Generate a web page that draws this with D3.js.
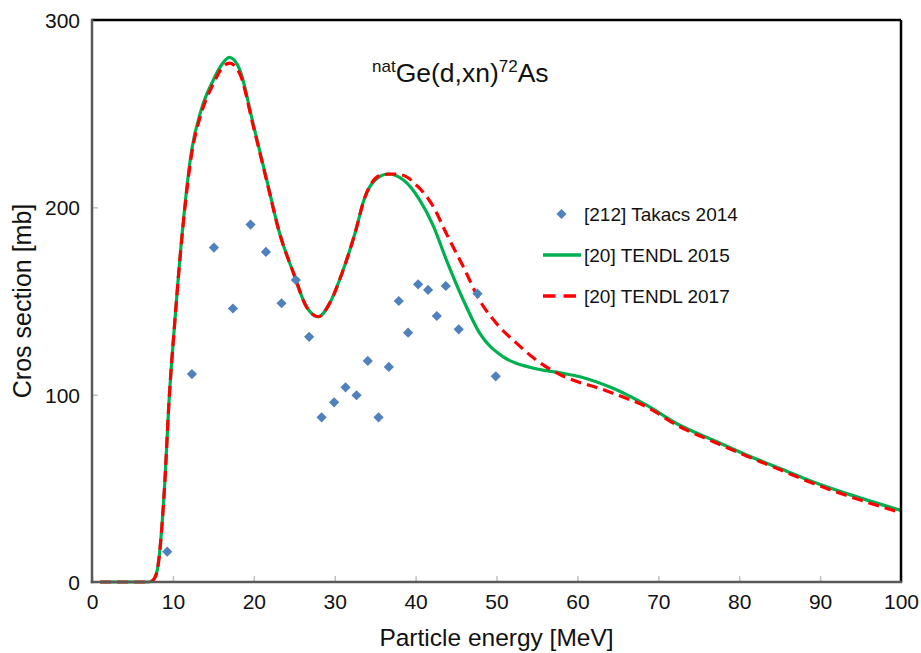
<!DOCTYPE html>
<html>
<head>
<meta charset="utf-8">
<script src="https://cdn.jsdelivr.net/npm/d3@7"></script>
<style>
  html, body { margin: 0; padding: 0; background: #fff; }
  svg { display: block; font-family: "Liberation Sans", Arial, sans-serif; }
</style>
</head>
<body>
<svg id="chart" width="921" height="653"></svg>
<script>
// ---- Data ----
const xTicks = [0, 10, 20, 30, 40, 50, 60, 70, 80, 90, 100];
const yTicks = [0, 100, 200, 300];

const takacsEnergy = [9.3, 12.35, 15.07, 17.42, 19.6, 21.5, 23.43, 25.2, 26.84, 28.38, 29.93, 31.34, 32.7, 34.09, 35.42, 36.69, 37.92, 39.07, 40.31, 41.54, 42.62, 43.73, 45.33, 47.65, 49.91];
const takacsValue  = [16.2, 111, 178.5, 146, 190.8, 176.2, 148.8, 161.2, 130.9, 87.9, 95.9, 103.9, 99.7, 118.0, 87.9, 114.8, 150.0, 133.1, 158.9, 155.9, 142.0, 158.0, 134.9, 153.9, 109.8];

const tendl2015Energy = [1, 7, 7.5, 8, 9, 9.5, 10.2, 11.3, 12.3, 13.5, 15, 16, 17, 18.3, 19.9, 21.6, 23.2, 24.9, 26.5, 28, 29.4, 31, 32.5, 33.7, 35, 36.6, 38.5, 40.5, 42.2, 43.8, 45.9, 47.9, 50.8, 54.1, 58.2, 60.3, 64.4, 68.5, 72.6, 76.75, 80.9, 85, 89.1, 93.2, 100];
const tendl2015Value  = [0, 0, 0.8, 5, 53, 95, 137, 193, 230, 252, 268, 276, 280, 273, 245, 214.6, 186, 165, 147, 141.6, 149, 166, 186, 205, 214.6, 217.8, 214.6, 204, 190, 172, 150.5, 133, 120.3, 114.6, 111.4, 109.6, 103.4, 94.5, 83.8, 75.8, 67.8, 60.7, 53.5, 47.3, 38.2];

const tendl2017Energy = [1, 7, 7.5, 8, 9, 9.5, 10.2, 11.3, 12.3, 13.5, 15, 16, 17, 18.3, 19.9, 21.6, 23.2, 24.9, 26.5, 28, 29.4, 31, 32.5, 33.7, 35.6, 37, 38.3, 40.3, 42.2, 43.8, 45.9, 47.9, 50, 52.5, 54.9, 58.2, 60.3, 62.3, 64.4, 68.5, 72.6, 76.75, 80.9, 85, 89.1, 93.2, 100];
const tendl2017Value  = [0, 0, 0.8, 5, 53, 95, 137, 192, 228, 250, 266, 274, 277, 271, 244, 214, 186, 165, 147, 141.6, 149, 166, 186, 205, 217, 217.8, 217.3, 211, 200.3, 186, 168.3, 150.5, 138, 127.4, 118.5, 110, 106.5, 104, 100.7, 93.6, 83, 75, 67.3, 60, 52.7, 46.3, 37];

const seriesNames = ["[212] Takacs 2014", "[20] TENDL 2015", "[20] TENDL 2017"];

// ---- Layout ----
const W = 921, H = 653;
const margin = { left: 92, right: 20, top: 20, bottom: 71 };
const x = d3.scaleLinear().domain([0, 100]).range([margin.left, W - margin.right]);
const y = d3.scaleLinear().domain([0, 300]).range([H - margin.bottom, margin.top]);

const svg = d3.select("#chart");

// Curves
const line = d3.line().x(d => x(d[0])).y(d => y(d[1])).curve(d3.curveMonotoneX);
const g15 = tendl2015Energy.map((e, i) => [e, tendl2015Value[i]]);
const g17 = tendl2017Energy.map((e, i) => [e, tendl2017Value[i]]);

svg.append("path").datum(g15).attr("d", line)
  .attr("fill", "none").attr("stroke", "#00b050").attr("stroke-width", 3.2);
svg.append("path").datum(g17).attr("d", line)
  .attr("fill", "none").attr("stroke", "#ff0000").attr("stroke-width", 3.2)
  .attr("stroke-dasharray", "11,6");

// Points
svg.append("g").selectAll("path").data(takacsEnergy.map((e, i) => [e, takacsValue[i]]))
  .join("path")
  .attr("d", d3.symbol().type(d3.symbolSquare).size(52))
  .attr("transform", d => `translate(${x(d[0])},${y(d[1])}) rotate(45)`)
  .attr("fill", "#4f81bd");

// Axes
const xAxis = svg.append("g").attr("transform", `translate(0,${y(0)})`)
  .call(d3.axisBottom(x).tickValues(xTicks).tickSizeInner(-6).tickSizeOuter(0).tickPadding(12));
const yAxis = svg.append("g").attr("transform", `translate(${x(0)},0)`)
  .call(d3.axisLeft(y).tickValues(yTicks).tickSizeInner(-6).tickSizeOuter(0).tickPadding(12));
[xAxis, yAxis].forEach(a => {
  a.select(".domain").remove();
  a.selectAll(".tick line").attr("stroke", "#c0c0c0").attr("stroke-width", 1.5);
  a.selectAll(".tick text").attr("font-size", 21).attr("fill", "#111")
    .attr("font-family", "Liberation Sans, Arial, sans-serif");
});
xAxis.selectAll(".tick text").attr("dy", "0.71em");
yAxis.selectAll(".tick text").attr("dy", "0.36em");

// Frame
svg.append("line").attr("x1", x(0)).attr("x2", x(100)).attr("y1", y(300)).attr("y2", y(300))
  .attr("stroke", "#000").attr("stroke-width", 2.5);
svg.append("line").attr("x1", x(100)).attr("x2", x(100)).attr("y1", y(300)).attr("y2", y(0))
  .attr("stroke", "#000").attr("stroke-width", 2.5);
svg.append("line").attr("x1", x(0)).attr("x2", x(0)).attr("y1", y(300) - 1.25).attr("y2", y(0) + 1.25)
  .attr("stroke", "#595959").attr("stroke-width", 2.5);
svg.append("line").attr("x1", x(0) - 1.25).attr("x2", x(100) + 1.25).attr("y1", y(0)).attr("y2", y(0))
  .attr("stroke", "#595959").attr("stroke-width", 2.5);

// Axis titles
svg.append("text").attr("x", (x(0) + x(100)) / 2).attr("y", 646)
  .attr("text-anchor", "middle").attr("font-size", 24.5).attr("fill", "#111")
  .text("Particle energy [MeV]");
svg.append("text").attr("transform", `translate(31,${(y(0) + y(300)) / 2}) rotate(-90)`)
  .attr("text-anchor", "middle").attr("font-size", 25).attr("fill", "#111")
  .text("Cros section [mb]");

// Chart title
const title = svg.append("text").attr("x", 372).attr("y", 82).attr("fill", "#111");
title.append("tspan").attr("font-size", 17).attr("dy", -10).text("nat");
title.append("tspan").attr("font-size", 26.5).attr("dy", 10).text("Ge(d,xn)");
title.append("tspan").attr("font-size", 17).attr("dy", -10).text("72");
title.append("tspan").attr("font-size", 26.5).attr("dy", 10).text("As");

// Legend
const leg = svg.append("g");
const legY = [214, 255, 296];
leg.append("path").attr("d", d3.symbol().type(d3.symbolSquare).size(52))
  .attr("transform", `translate(561.5,${legY[0]}) rotate(45)`).attr("fill", "#4f81bd");
leg.append("line").attr("x1", 543).attr("x2", 581).attr("y1", legY[1]).attr("y2", legY[1])
  .attr("stroke", "#00b050").attr("stroke-width", 3.5);
leg.append("line").attr("x1", 543).attr("x2", 581).attr("y1", legY[2]).attr("y2", legY[2])
  .attr("stroke", "#ff0000").attr("stroke-width", 3.5).attr("stroke-dasharray", "12.5,8");
seriesNames.forEach((name, i) => {
  leg.append("text").attr("x", 584).attr("y", legY[i] + 6.5)
    .attr("font-size", 19).attr("fill", "#111").text(name);
});
</script>
</body>
</html>
